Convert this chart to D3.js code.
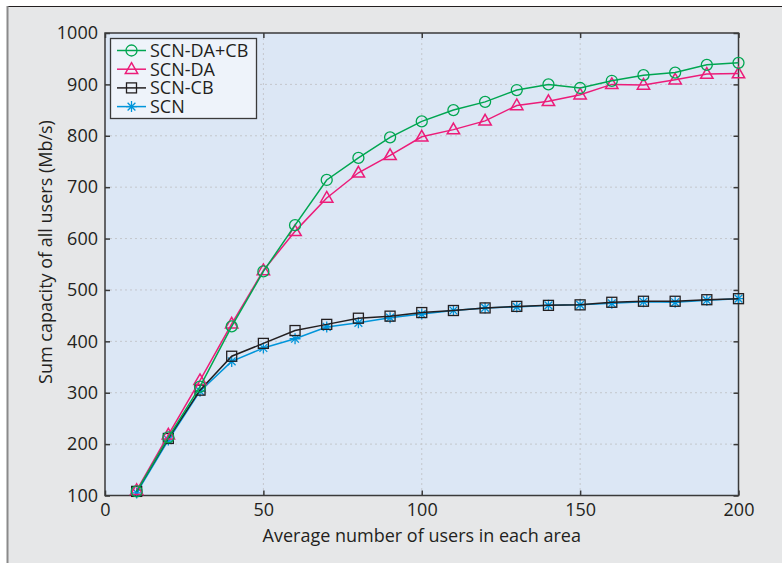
<!DOCTYPE html>
<html><head><meta charset="utf-8">
<script src="https://cdn.jsdelivr.net/npm/d3@7"></script>
<style>
body{margin:0;background:#fff;}
text{font-family:"Open Sans","Noto Sans",sans-serif;fill:#231f20;}
</style></head>
<body><svg id="c" width="782" height="563"></svg>
<script>
const xValues = [10,20,30,40,50,60,70,80,90,100,110,120,130,140,150,160,170,180,190,200];
const seriesNames = ["SCN-DA+CB","SCN-DA","SCN-CB","SCN"];
const scnDaCb = [108,213,312,429,536,626,714,757,797,828,850,866,889,900,893,907,918,923,938,942];
const scnDa   = [110,218,324,434,538,614,679,728,762,798,812,829,859,867,880,900,899,909,920,921];
const scnCb   = [108,211,305,371,396,421,433,445,449,456,460,465,468,470,471,476,478,478,481,483];
const scn     = [105,208,303,361,387,405,428,436,446,453,460,465,467,470,471,474,477,476,480,483];
const xTicks = [0,50,100,150,200];
const yTicks = [100,200,300,400,500,600,700,800,900,1000];

const svg = d3.select("#c");
// outer frame
svg.append("rect").attr("x",7).attr("y",6).attr("width",782).attr("height",600).attr("fill","#e6e7e8");
svg.append("line").attr("x1",7).attr("x2",782).attr("y1",6.5).attr("y2",6.5).attr("stroke","#231f20").attr("stroke-width",1);
svg.append("line").attr("x1",7.5).attr("x2",7.5).attr("y1",6).attr("y2",563).attr("stroke","#8a8a8a").attr("stroke-width",2);

const L=105, R=738.5, T=33, B=495.5;
const x = d3.scaleLinear().domain([0,200]).range([L,R]);
const y = d3.scaleLinear().domain([100,1000]).range([B,T]);
const g = svg.append("g");
g.append("rect").attr("x",L).attr("y",T).attr("width",R-L).attr("height",B-T).attr("fill","#dce7f5");

// grid
g.selectAll(".gx").data(xTicks.slice(1,-1)).join("line")
 .attr("x1",d=>x(d)).attr("x2",d=>x(d)).attr("y1",T).attr("y2",B)
 .attr("stroke","#c4c7cc").attr("stroke-dasharray","2,3").attr("stroke-width",1);
g.selectAll(".gy").data(yTicks.slice(1,-1)).join("line")
 .attr("x1",L).attr("x2",R).attr("y1",d=>y(d)).attr("y2",d=>y(d))
 .attr("stroke","#c4c7cc").attr("stroke-dasharray","2,3").attr("stroke-width",1);

// axes
const fmt = d3.format("d");
const ax = g.append("g").attr("transform",`translate(0,${B})`).call(d3.axisBottom(x).tickValues(xTicks).tickSize(-5).tickPadding(7.5).tickFormat(fmt));
const axT = g.append("g").attr("transform",`translate(0,${T})`).call(d3.axisTop(x).tickValues(xTicks).tickSize(-5).tickFormat(""));
const ay = g.append("g").attr("transform",`translate(${L},0)`).call(d3.axisLeft(y).tickValues(yTicks).tickSize(-5).tickPadding(7).tickFormat(fmt));
const ayR = g.append("g").attr("transform",`translate(${R},0)`).call(d3.axisRight(y).tickValues(yTicks).tickSize(-5).tickFormat(""));
[ax,axT,ay,ayR].forEach(a=>{a.select(".domain").remove();a.selectAll("line").attr("stroke","#3a3a3a").attr("stroke-width",1.5);
  a.selectAll("text").attr("font-size",18).attr("fill","#231f20").style("font-family","'Open Sans',sans-serif");});
ax.selectAll("text").attr("dy","0.71em");
g.append("rect").attr("x",L).attr("y",T).attr("width",R-L).attr("height",B-T).attr("fill","none").attr("stroke","#3a3a3a").attr("stroke-width",1.5);

// labels
svg.append("text").attr("x",(L+R)/2).attr("y",542).attr("text-anchor","middle").attr("font-size",18).text("Average number of users in each area");
svg.append("text").attr("transform",`translate(52,252) rotate(-90)`).attr("text-anchor","middle").attr("font-size",18).text("Sum capacity of all users (Mb/s)");

const colors = ["#00a651","#ec1c79","#231f20","#0095da"];
const data = [scnDaCb, scnDa, scnCb, scn];
const line = d3.line().x((d,i)=>x(xValues[i])).y(d=>y(d));
const drawOrder = [3,2,1,0];

function marker(sel, k, cx, cy){
  const c = colors[k];
  if(k===0){ sel.append("circle").attr("cx",cx).attr("cy",cy).attr("r",5.5).attr("fill","none").attr("stroke",c).attr("stroke-width",1.3); }
  else if(k===1){ const s=6.5; sel.append("path").attr("d",`M${cx},${cy-s}L${cx+s*0.95},${cy+s*0.65}L${cx-s*0.95},${cy+s*0.65}Z`).attr("fill","none").attr("stroke",c).attr("stroke-width",1.5); }
  else if(k===2){ sel.append("rect").attr("x",cx-5).attr("y",cy-5).attr("width",10).attr("height",10).attr("fill","none").attr("stroke",c).attr("stroke-width",1.3); }
  else { const s=5.5; let p=""; for(let a=0;a<4;a++){const th=a*Math.PI/4; p+=`M${cx-s*Math.cos(th)},${cy-s*Math.sin(th)}L${cx+s*Math.cos(th)},${cy+s*Math.sin(th)}`;} sel.append("path").attr("d",p).attr("stroke",c).attr("stroke-width",1.3).attr("fill","none"); }
}
drawOrder.forEach(k=>{
  g.append("path").datum(data[k]).attr("d",line).attr("fill","none").attr("stroke",colors[k]).attr("stroke-width",1.5);
  const mg = g.append("g");
  data[k].forEach((v,i)=>marker(mg,k,x(xValues[i]),y(v)));
});

// legend
const lg = svg.append("g");
lg.append("rect").attr("x",110.5).attr("y",38.5).attr("width",146).attr("height",80).attr("fill","#eef3fa").attr("stroke","#3a3a3a").attr("stroke-width",1.3);
seriesNames.forEach((n,k)=>{
  const yy = 50.5 + k*18.7;
  lg.append("line").attr("x1",117).attr("x2",146).attr("y1",yy).attr("y2",yy).attr("stroke",colors[k]).attr("stroke-width",1.5);
  marker(lg,k,131.5,yy);
  lg.append("text").attr("x",150).attr("y",yy).attr("dy","0.36em").attr("font-size",18).text(n);
});
</script></body></html>
